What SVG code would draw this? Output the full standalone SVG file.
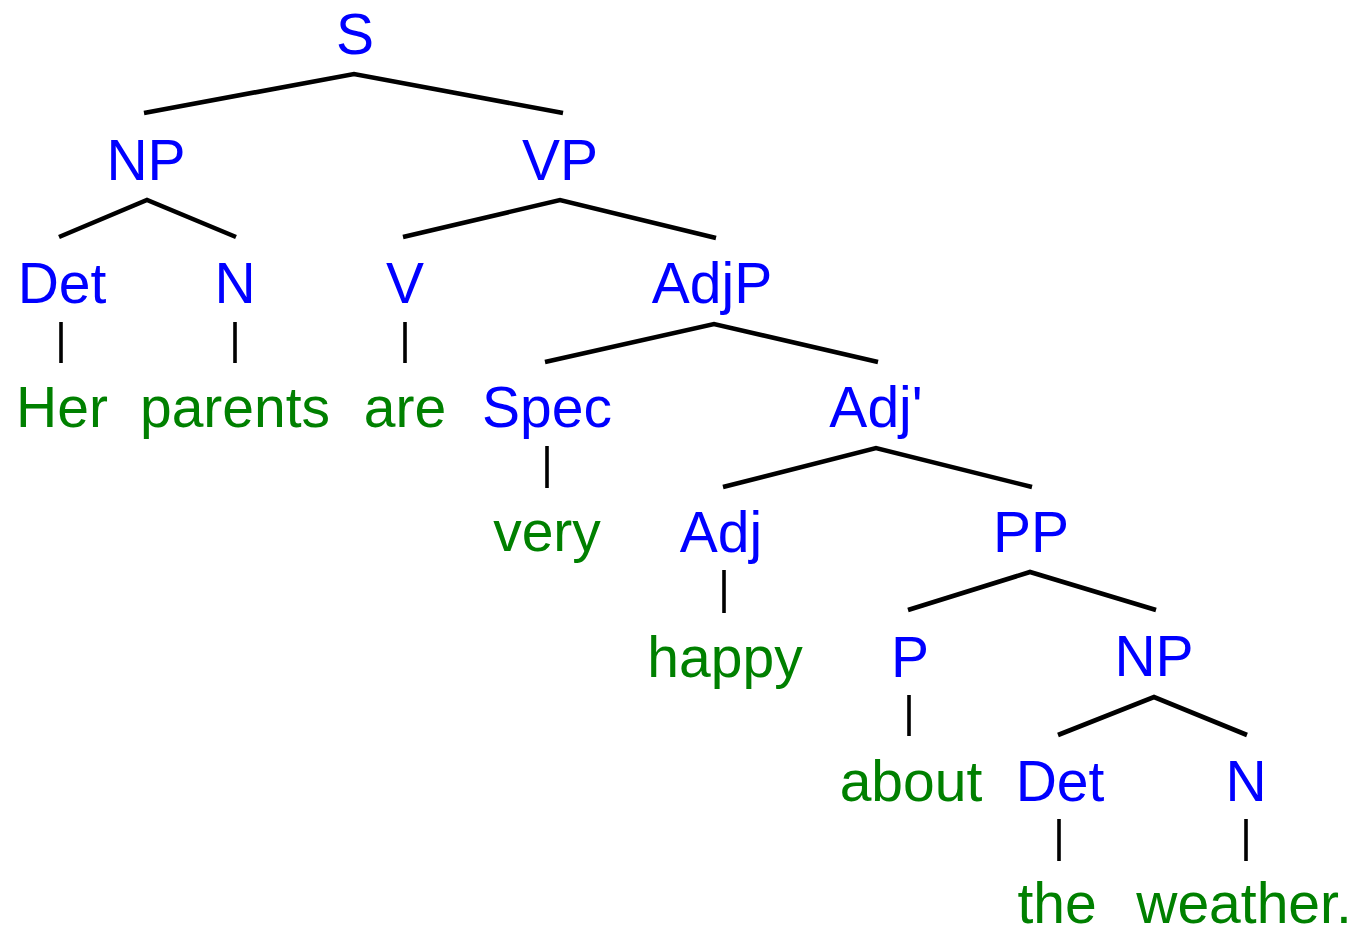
<svg xmlns="http://www.w3.org/2000/svg" width="1357" height="928" viewBox="0 0 1357 928">
<style>
text{font-family:"Liberation Sans",Arial,sans-serif;font-size:57px;text-anchor:middle}
.c{fill:#0000ff}
.w{fill:#008000}
#edges path{stroke:#000;stroke-width:4.6;fill:none;stroke-linejoin:miter}
#edges line{stroke:#000;stroke-width:3.6}
</style>
<rect width="1357" height="928" fill="#fff"/>
<g id="edges">
<path d="M144,113 L354,74 L563,113"/>
<path d="M59,237 L147,200 L236,237"/>
<path d="M403,237 L560,200 L716,238"/>
<path d="M545,362 L714,324 L878,362"/>
<path d="M723,487 L876,448 L1032,487"/>
<path d="M908,610 L1030,572 L1156,610"/>
<path d="M1058,735 L1154,697 L1247,735"/>
<line x1="61" y1="322" x2="61" y2="363"/>
<line x1="235" y1="322" x2="235" y2="363"/>
<line x1="405" y1="322" x2="405" y2="363"/>
<line x1="547" y1="446" x2="547" y2="488"/>
<line x1="724" y1="570" x2="724" y2="613"/>
<line x1="909" y1="695" x2="909" y2="736"/>
<line x1="1059" y1="819" x2="1059" y2="861"/>
<line x1="1246" y1="819" x2="1246" y2="861"/>
</g>
<g id="n-S"><text class="c" x="355" y="54">S</text></g>
<g id="n-NP1"><text class="c" x="146" y="180">NP</text></g>
<g id="n-VP"><text class="c" x="560" y="180">VP</text></g>
<g id="n-Det1"><text class="c" x="62" y="303">Det</text></g>
<g id="n-N1"><text class="c" x="235" y="303">N</text></g>
<g id="n-V"><text class="c" x="405" y="303">V</text></g>
<g id="n-AdjP"><text class="c" x="712" y="303">AdjP</text></g>
<g id="n-Her"><text class="w" x="62" y="427">Her</text></g>
<g id="n-parents"><text class="w" x="235" y="427">parents</text></g>
<g id="n-are"><text class="w" x="405" y="427">are</text></g>
<g id="n-Spec"><text class="c" x="547" y="427">Spec</text></g>
<g id="n-Adjbar"><text class="c" x="876" y="427">Adj'</text></g>
<g id="n-very"><text class="w" x="547" y="551">very</text></g>
<g id="n-Adj"><text class="c" x="721" y="552">Adj</text></g>
<g id="n-PP"><text class="c" x="1031" y="552">PP</text></g>
<g id="n-happy"><text class="w" x="725" y="677">happy</text></g>
<g id="n-P"><text class="c" x="910" y="677">P</text></g>
<g id="n-NP2"><text class="c" x="1154" y="676">NP</text></g>
<g id="n-about"><text class="w" x="911" y="801">about</text></g>
<g id="n-Det2"><text class="c" x="1060" y="801">Det</text></g>
<g id="n-N2"><text class="c" x="1246" y="801">N</text></g>
<g id="n-the"><text class="w" x="1057" y="923">the</text></g>
<g id="n-weather"><text class="w" x="1244" y="923">weather.</text></g>
</svg>
